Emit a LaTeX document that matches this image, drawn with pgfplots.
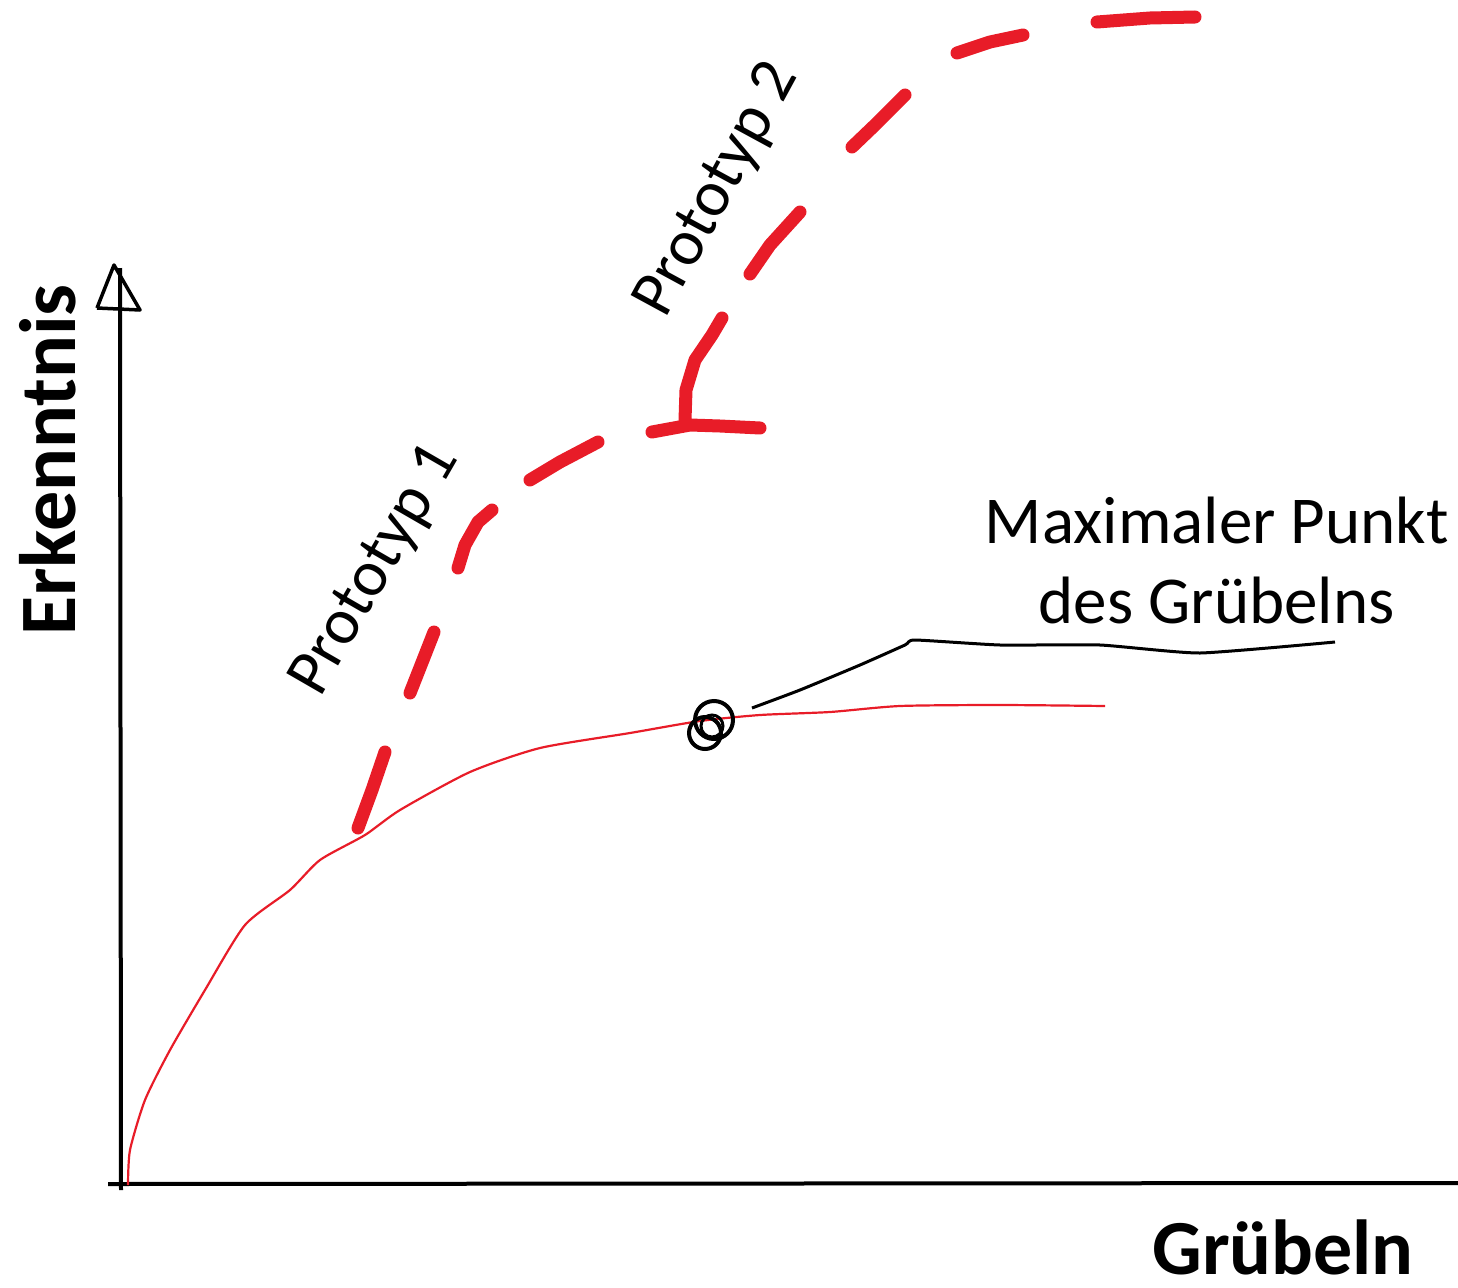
\documentclass[border=0pt]{standalone}
\usepackage{pgfplots}
\pgfplotsset{compat=1.18}
\usepackage{fontspec}
\setmainfont{Carlito}
\definecolor{sketchred}{RGB}{232,28,40}
\begin{document}
\begin{tikzpicture}
\begin{axis}[
  hide axis, scale only axis, width=1458pt, height=1287pt,
  xmin=0, xmax=1458, ymin=0, ymax=1287, y dir=reverse,
  clip=false, unbounded coords=jump,
]
% axes (hand drawn)
\addplot[black, line width=4pt] coordinates {(121,1190) (120,268)};
\addplot[black, line width=4pt] coordinates {(108,1184) (1458,1183)};
\addplot[black, line width=3.5pt, line join=round] coordinates {(97,308) (114,265) (140,310) (97,308)};
% thin red curve
\addplot[sketchred, line width=2.2pt, smooth, tension=0.4] coordinates {
 (128,1185) (130,1150) (145,1100) (170,1050) (205,990) (245,925) (290,890)
 (320,860) (365,835) (400,810) (470,772) (540,748) (630,733) (700,721)
 (760,715) (830,712) (900,706) (1000,705) (1105,706)};
% thick dashed red prototype line
\addplot[sketchred, line width=13pt, line cap=round, line join=round] coordinates {
 (358,828) (372,790) (385,752)
 (nan,nan)
 (410,693) (423,660) (434,632)
 (nan,nan)
 (458,568) (465,545) (478,522) (492,510)
 (nan,nan)
 (530,480) (560,462) (598,442)
 (nan,nan)
 (652,432) (690,425) (720,426) (760,428)
 (nan,nan)
 (685,420) (686,390) (695,360) (712,335) (722,318)
 (nan,nan)
 (750,274) (770,245) (800,212)
 (nan,nan)
 (852,147) (875,125) (905,95)
 (nan,nan)
 (957,53) (990,42) (1023,35)
 (nan,nan)
 (1097,22) (1150,18) (1195,17)};
% maximal point marker (scribbled circles)
\addplot[black, line width=4pt, only marks, mark=o, mark size=19pt] coordinates {(714,720)};
\addplot[black, line width=4pt, only marks, mark=o, mark size=16pt] coordinates {(705,733)};
\addplot[black, line width=3pt, only marks, mark=o, mark size=11pt] coordinates {(712,726)};
% annotation line
\addplot[black, line width=3pt, smooth, tension=0.3] coordinates {
 (752,708) (800,690) (860,665) (905,645) (915,640) (1000,645) (1100,645) (1200,653) (1335,642)};
% texts
\node[anchor=east, align=center, font=\fontsize{67}{80}\selectfont] at (axis cs:1452,560)
  {Maximaler Punkt\\des Grübelns};
\node[rotate=60, font=\fontsize{65}{76}\selectfont] at (axis cs:376,570) {Prototyp 1};
\node[rotate=61.5, font=\fontsize{65}{76}\selectfont] at (axis cs:718,190) {Prototyp 2};
\node[rotate=90, font=\bfseries\fontsize{80}{90}\selectfont] at (axis cs:48,460) {Erkenntnis};
\node[anchor=base east, font=\bfseries\fontsize{78}{88}\selectfont, inner sep=0pt] at (axis cs:1414,1274) {Grübeln};
\end{axis}
\pgfresetboundingbox
\path[use as bounding box] (current axis.south west) rectangle (current axis.north east);
\end{tikzpicture}
\end{document}
